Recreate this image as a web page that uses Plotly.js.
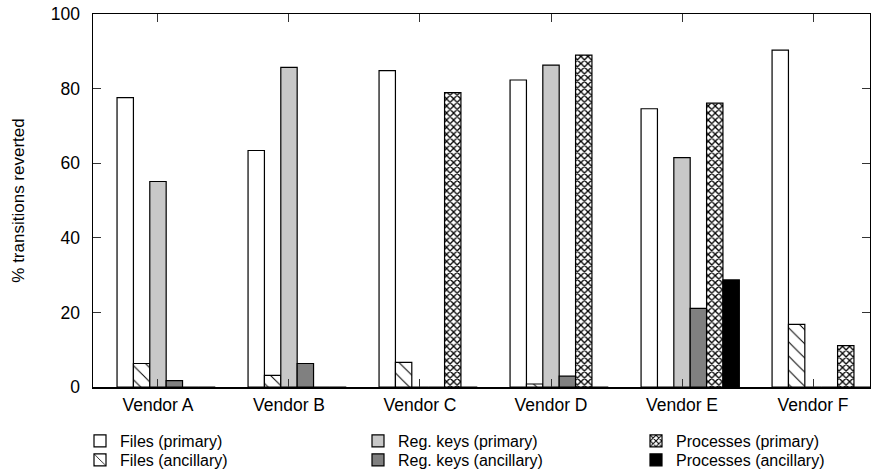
<!DOCTYPE html>
<html>
<head>
<meta charset="utf-8">
<script src="https://cdn.plot.ly/plotly-3.0.1.min.js"></script>
<style>html,body{margin:0;padding:0;background:#fff;}#chart{width:871px;height:476px;}</style>
</head>
<body>
<div id="chart"></div>
<script>
var vendors = ["Vendor A", "Vendor B", "Vendor C", "Vendor D", "Vendor E", "Vendor F"];
var filesPrimary     = [77.6, 63.4, 84.8, 82.3, 74.6, 90.3];
var filesAncillary   = [6.3, 3.1, 6.6, 0.8, 0, 16.8];
var regPrimary       = [55.1, 85.7, 0, 86.3, 61.5, 0];
var regAncillary     = [1.7, 6.3, 0, 2.9, 21.1, 0];
var procPrimary      = [0, 0, 78.9, 89.0, 76.1, 11.1];
var procAncillary    = [0, 0, 0, 0, 28.7, 0];

var xs = vendors.map(function (v, i) { return i; });
var W = 0.125;
var FONT = "Liberation Sans, Arial, Helvetica, sans-serif";

function bar(name, y, k, marker, legendId, lw) {
  var t = {
    type: "bar", name: name, x: xs, y: y, width: W, offset: (k - 2.5) * W,
    marker: marker, legend: legendId, hoverinfo: "y"
  };
  if (lw) t.legendwidth = lw;
  return t;
}
var line = { color: "#000", width: 1.2 };
var traces = [
  bar("Files (primary)", filesPrimary, 0, { color: "#ffffff", line: line }, "legend", 233),
  bar("Files (ancillary)", filesAncillary, 1, { color: "#ffffff", line: line,
      pattern: { shape: "\\", size: 10, solidity: 0.1, fgcolor: "#000", bgcolor: "#fff" } }, "legend2", 233),
  bar("Reg. keys (primary)", regPrimary, 2, { color: "#c8c8c8", line: line }, "legend", 233),
  bar("Reg. keys (ancillary)", regAncillary, 3, { color: "#808080", line: line }, "legend2", 233),
  bar("Processes (primary)", procPrimary, 4, { color: "#ffffff", line: line,
      pattern: { shape: "x", size: 5, solidity: 0.45, fgcolor: "#000", bgcolor: "#fff" } }, "legend"),
  bar("Processes (ancillary)", procAncillary, 5, { color: "#000000", line: line }, "legend2")
];

var legendCommon = {
  orientation: "h", xref: "container", yref: "container",
  x: 80 / 871, xanchor: "left", yanchor: "middle",
  font: { family: FONT, size: 16, color: "#000" },
  bgcolor: "rgba(0,0,0,0)", borderwidth: 0, entrywidthmode: "pixels",
  traceorder: "normal", itemclick: false
};
var layout = {
  width: 871, height: 476,
  margin: { l: 93, r: 1, t: 14, b: 89, pad: 0 },
  paper_bgcolor: "#fff", plot_bgcolor: "#fff",
  font: { family: FONT, size: 17, color: "#000" },
  barmode: "overlay",
  showlegend: true,
  legend: Object.assign({}, legendCommon, { y: 1 - 441 / 476 }),
  legend2: Object.assign({}, legendCommon, { y: 1 - 460 / 476 }),
  xaxis: {
    range: [-0.496, 5.435], tickmode: "array", tickvals: xs, ticktext: vendors,
    ticks: "inside", ticklen: 8, tickwidth: 1, tickcolor: "#333",
    showline: true, linecolor: "#000", linewidth: 1.5, mirror: "ticks",
    showgrid: false, zeroline: false, ticklabelstandoff: 1,
    tickfont: { family: FONT, size: 17.5, color: "#000" }, fixedrange: true
  },
  yaxis: {
    range: [0, 100], tickmode: "linear", tick0: 0, dtick: 20,
    ticks: "inside", ticklen: 8, tickwidth: 1, tickcolor: "#333",
    showline: true, linecolor: "#000", linewidth: 1.5, mirror: "ticks",
    showgrid: false, zeroline: false, ticklabelstandoff: 8,
    tickfont: { family: FONT, size: 17.5, color: "#000" },
    title: { text: "% transitions reverted", font: { family: FONT, size: 17, color: "#000" }, standoff: 22 },
    fixedrange: true
  }
};
Plotly.newPlot("chart", traces, layout, { displayModeBar: false, staticPlot: true });
</script>
</body>
</html>
